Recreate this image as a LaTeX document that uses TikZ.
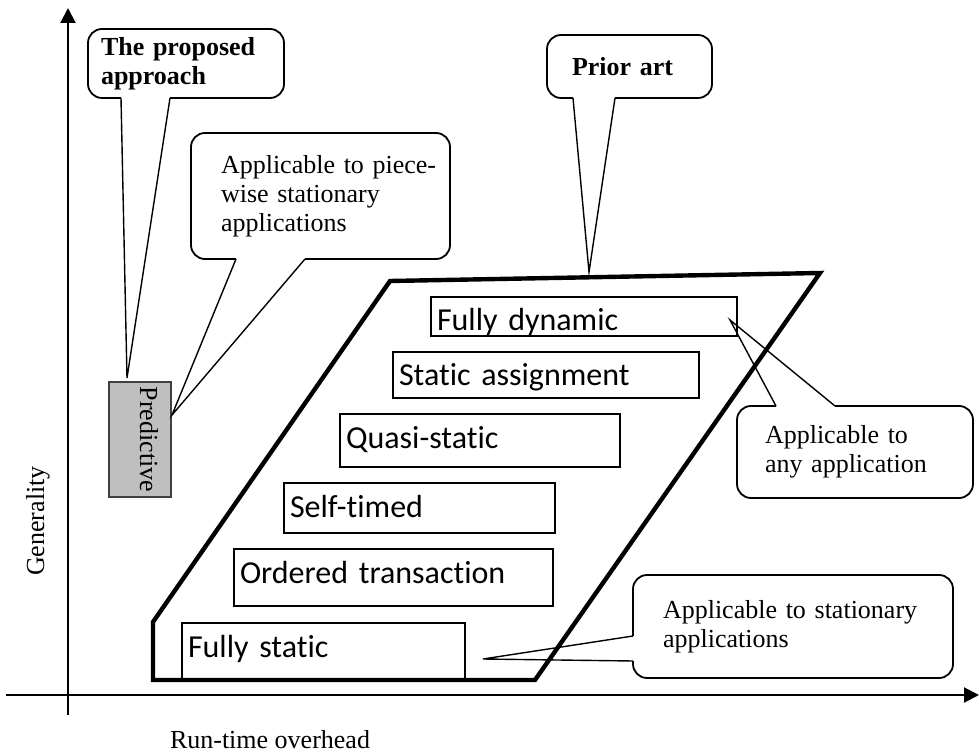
\documentclass[tikz,border=0pt]{standalone}
\usepackage{fontspec}
\setmainfont{Liberation Serif}
\newfontfamily\calibri[Ligatures=NoCommon]{Carlito}
\usetikzlibrary{arrows.meta,positioning}

\begin{document}
\begin{tikzpicture}[x=0.5pt, y=-0.5pt]
	\useasboundingbox (0,0) rectangle (979,753);
	% axes
	\coordinate (ybot) at (68,715);
	\coordinate (ytop) at (68,8);
	\coordinate (xleft) at (6,695);
	\coordinate (xright) at (979,695);
	\draw[line width=1pt, -{Triangle[length=7.5pt,width=7.5pt]}] (ybot) -- (ytop);
	\draw[line width=1pt, -{Triangle[length=7.5pt,width=7.5pt]}] (xleft) -- (xright);
	\node[rotate=90, font=\fontsize{13}{14}\selectfont] (gen) at (38,521) {Generality};
	\node[font=\fontsize{13}{14}\selectfont] (rto) at (270,740) {Run-time overhead};
	
	% prior art region
	\draw[line width=2.2pt] (153,622) -- (153,680) -- (535,680) -- (820,273) -- (390,281) -- cycle;
	
	\begin{scope}[every node/.style={draw, line width=0.9pt, anchor=north west, align=left, outer sep=0pt,
			inner xsep=3pt, inner ysep=0pt, text height=17pt, font=\calibri\fontsize{16}{19}\selectfont}]
		\node[text width=147pt, text depth=2.5pt] (dyn) at (431,297) {Fully dynamic};
		\node[text width=147pt, text depth=6pt] (sa) at (393,352) {Static assignment};
		\node[text width=134pt, text depth=9.5pt] (qs) at (340,414) {Quasi-static};
		\node[text width=129.5pt, text depth=8pt] (st) at (284,483) {Self-timed};
		\node[text width=153.5pt, text depth=11.5pt] (ot) at (234,549) {Ordered transaction};
		\node[text width=135.5pt, text depth=11.5pt] (fs) at (182,623) {Fully static};
	\end{scope}
	
	\node[draw=black!75, fill=black!25, line width=0.6pt, rotate=-90, minimum width=57.5pt,
		inner xsep=2pt, inner ysep=0pt, text height=15.5pt, text depth=15.5pt,
		font=\fontsize{13}{14}\selectfont] (pred) at (140,439.5) {Predictive};
	
	% callouts
	\begin{scope}[every node/.style={draw, line width=0.9pt, rounded corners=7pt, anchor=north west,
			align=left, outer sep=0pt, font=\fontsize{13}{14.5}\selectfont}]
		\node[font=\bfseries\fontsize{13}{14.5}\selectfont, text width=85pt, inner xsep=6.5pt,
			minimum height=34.5pt] (prop) at (88,29) {The proposed approach};
		\node[text width=99.5pt, inner xsep=15pt, minimum height=63pt] (pw) at (191,133)
			{\mbox{Applicable to piece-}\\wise stationary\\applications};
		\node[font=\bfseries\fontsize{13}{14.5}\selectfont, text width=57.5pt, inner xsep=12.5pt,
			minimum height=31.5pt] (prior) at (547,35) {Prior art};
		\node[text width=90pt, inner xsep=14pt, minimum height=46pt] (anyapp) at (737,406)
			{Applicable to\\any application};
		\node[text width=130pt, inner xsep=15pt, minimum height=51.5pt] (stat) at (633,575)
			{Applicable to stationary\\applications};
	\end{scope}
	
	\coordinate (propTip) at (127,378);
	\coordinate (pwTip) at (172,415);
	\coordinate (priorTip) at (589,272);
	\coordinate (anyTip) at (730,320);
	\coordinate (statTip) at (483,659);
	
	% tails
	\draw[white, line width=1.6pt] ([xshift=16.5pt]prop.south west) -- ([xshift=41pt]prop.south west);
	\draw[line width=0.7pt] ([xshift=16.5pt]prop.south west) -- (propTip) -- ([xshift=41pt]prop.south west);
	\draw[white, line width=1.6pt] ([xshift=22.5pt]pw.south west) -- ([xshift=57pt]pw.south west);
	\draw[line width=0.7pt] ([xshift=22.5pt]pw.south west) -- (pwTip) -- ([xshift=57pt]pw.south west);
	\draw[white, line width=1.6pt] ([xshift=13pt]prior.south west) -- ([xshift=34pt]prior.south west);
	\draw[line width=0.7pt] ([xshift=13pt]prior.south west) -- (priorTip) -- ([xshift=34pt]prior.south west);
	\draw[white, line width=1.6pt] ([xshift=19.5pt]anyapp.north west) -- ([xshift=49pt]anyapp.north west);
	\draw[line width=0.7pt] ([xshift=19.5pt]anyapp.north west) -- (anyTip) -- ([xshift=49pt]anyapp.north west);
	\draw[white, line width=1.6pt] ([yshift=-30.5pt]stat.north west) -- ([yshift=-43pt]stat.north west);
	\draw[line width=0.7pt] ([yshift=-30.5pt]stat.north west) -- (statTip) -- ([yshift=-43pt]stat.north west);
\end{tikzpicture}
\end{document}
